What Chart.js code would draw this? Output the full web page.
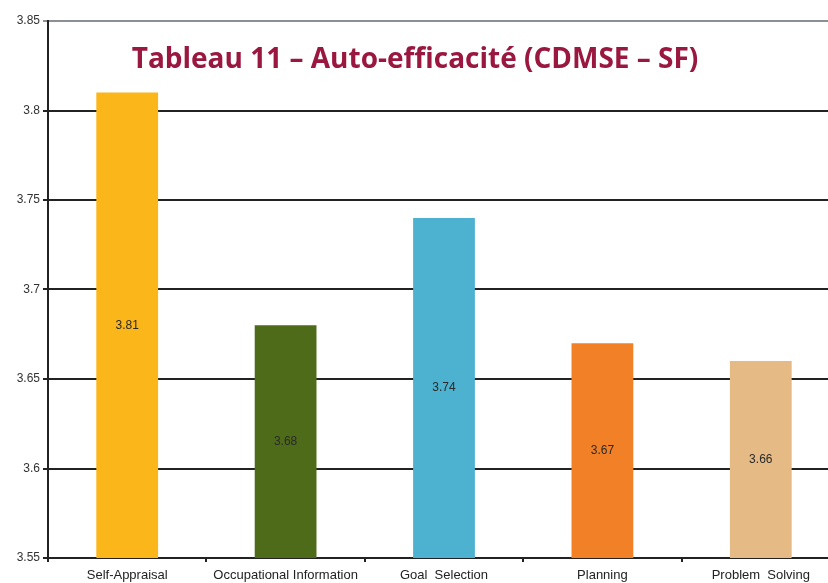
<!DOCTYPE html>
<html>
<head>
<meta charset="utf-8">
<script src="https://cdn.jsdelivr.net/npm/chart.js@4/dist/chart.umd.min.js"></script>
<style>
  html, body { margin: 0; padding: 0; background: #fff; overflow: hidden; }
  #wrap { width: 842px; height: 583px; }
</style>
</head>
<body>
<div id="wrap"><canvas id="c" width="842" height="583"></canvas></div>
<script>
var categories = ["Self-Appraisal", "Occupational Information", "Goal  Selection", "Planning", "Problem  Solving"];
var scores = [3.81, 3.68, 3.74, 3.67, 3.66];
var barColors = ["#FBB619", "#4E6B1A", "#4DB1D0", "#F28026", "#E6BA84"];
var titleText = "Tableau 11 \u2013 Auto-efficacit\u00e9 (CDMSE \u2013 SF)";

// value written in the middle of each bar, plus the title inside the plot
var overlay = {
	id: 'overlay',
	afterDraw: function(chart){
		var ctx = chart.ctx;
		var a = chart.chartArea;
		var xs = chart.scales.x;
		var ys = chart.scales.y;
		ctx.save();
		ctx.font = '12px Arial, sans-serif';
		ctx.fillStyle = '#2a2a2a';
		ctx.textAlign = 'center';
		ctx.textBaseline = 'middle';
		for (var i = 0; i < scores.length; i++) {
			var top = ys.getPixelForValue(scores[i]);
			var bottom = ys.getPixelForValue(ys.min);
			ctx.fillText(String(scores[i]), xs.getPixelForValue(i), (top + bottom) / 2);
		}

		ctx.font = 'bold 28px "Open Sans", sans-serif';
		ctx.fillStyle = '#9A1840';
		ctx.fillText(titleText, 415, a.top + 39);
		ctx.restore();
	}
};

var config = {
	type: 'bar',
	data: {
		labels: categories,
		datasets: [
			{
				data: scores,
				backgroundColor: barColors,
				categoryPercentage: 1,
				barPercentage: 0.39
			}
		]
	},
	options: {
		responsive: false,
		animation: false,
		layout: {
			padding: { top: 21, right: 2, left: 0, bottom: 0 }
		},
		plugins: {
			legend: { display: false },
			tooltip: { enabled: false }
		},
		scales: {
			x: {
				grid: {
					drawOnChartArea: false,
					drawTicks: true,
					tickLength: 4,
					color: '#222',
					lineWidth: 2
				},
				border: { color: '#222', width: 2 },
				ticks: {
					color: '#222',
					font: { family: 'Arial, "Liberation Sans", sans-serif', size: 13 },
					maxRotation: 0,
					autoSkip: false,
					padding: 6
				},
				afterFit: function(scale){ scale.height = 25; }
			},
			y: {
				min: 3.55,
				max: 3.85,
				ticks: {
					stepSize: 0.05,
					color: '#333',
					font: { family: 'Arial, "Liberation Sans", sans-serif', size: 12 },
					padding: 3,
					callback: function(v){ return String(Math.round(v * 100) / 100); }
				},
				grid: {
					color: function(c){ return c.index === 6 ? '#8A9096' : '#222'; },
					lineWidth: 2,
					tickLength: 5
				},
				border: { color: '#222', width: 2 },
				afterFit: function(scale){ scale.width = 48; }
			}
		}
	},
	plugins: [overlay]
};

var myChart = new Chart(document.getElementById('c').getContext('2d'), config);
</script>
</body>
</html>
